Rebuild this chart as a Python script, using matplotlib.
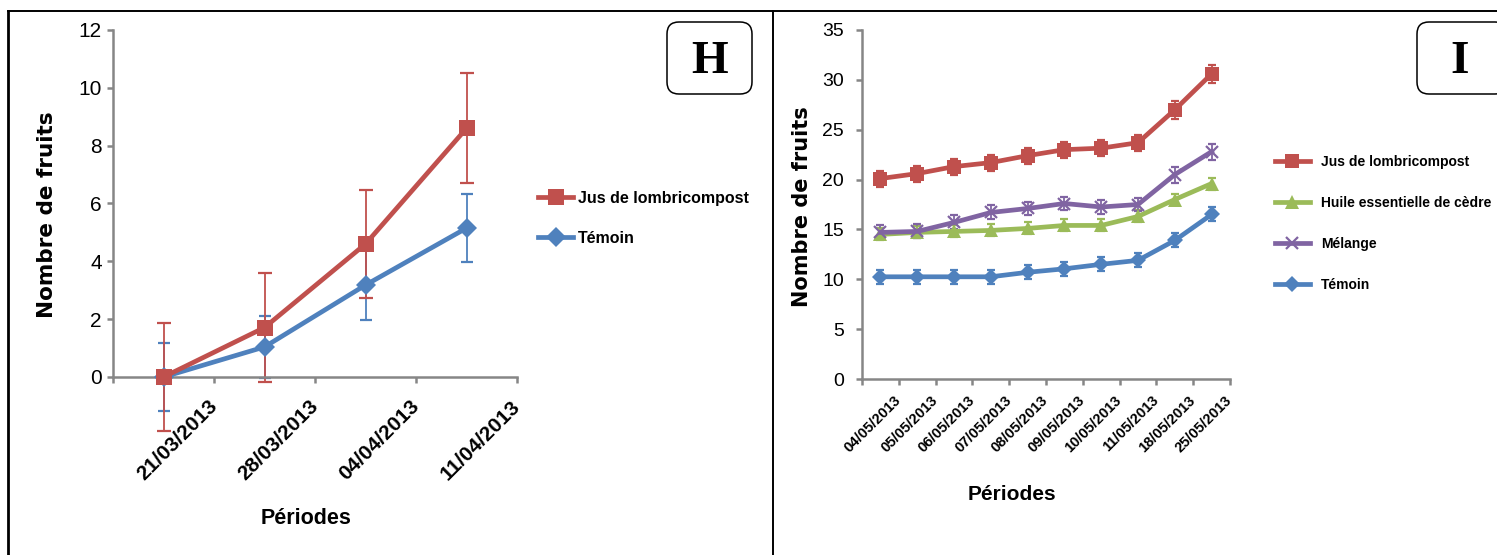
import matplotlib
matplotlib.use('Agg')
import matplotlib.pyplot as plt
from matplotlib import font_manager
from matplotlib.lines import Line2D
from matplotlib.patches import FancyBboxPatch

# panel H
dates_h = ['21/03/2013', '28/03/2013', '04/04/2013', '11/04/2013']
jus_h = [0.0, 1.71, 4.6, 8.6]
jus_h_err = [1.88, 1.88, 1.88, 1.9]
temoin_h = [0.0, 1.04, 3.18, 5.15]
temoin_h_err = [1.19, 1.08, 1.2, 1.17]

# panel I
dates_i = ['04/05/2013', '05/05/2013', '06/05/2013', '07/05/2013', '08/05/2013',
           '09/05/2013', '10/05/2013', '11/05/2013', '18/05/2013', '25/05/2013']
jus_i = [20.1, 20.6, 21.3, 21.7, 22.4, 23.0, 23.15, 23.7, 27.0, 30.6]
huile_i = [14.5, 14.7, 14.8, 14.9, 15.1, 15.4, 15.4, 16.3, 18.0, 19.6]
melange_i = [14.7, 14.8, 15.7, 16.7, 17.1, 17.6, 17.25, 17.5, 20.5, 22.8]
temoin_i = [10.25, 10.25, 10.25, 10.25, 10.7, 11.05, 11.5, 11.9, 13.9, 16.5]
jus_i_err = [0.8, 0.8, 0.8, 0.8, 0.8, 0.8, 0.8, 0.8, 0.9, 0.9]
huile_i_err = [0.6, 0.6, 0.6, 0.6, 0.6, 0.6, 0.6, 0.6, 0.6, 0.6]
melange_i_err = [0.7, 0.7, 0.7, 0.7, 0.7, 0.7, 0.7, 0.7, 0.8, 0.8]
temoin_i_err = [0.7, 0.7, 0.7, 0.7, 0.7, 0.7, 0.7, 0.7, 0.7, 0.7]

RED = '#C0504D'
BLUE = '#4F81BD'
GREEN = '#9BBB59'
PURPLE = '#8064A2'
GREY = '#868686'

installed = {f.name for f in font_manager.fontManager.ttflist}
NARROW = 'Liberation Sans Narrow' if 'Liberation Sans Narrow' in installed else 'Liberation Sans'
WIDE = 'DejaVu Sans'

fig = plt.figure(figsize=(14.97, 5.55), dpi=100)
W, H = 1497, 555


def px_axes(x0, x1, ytop, ybot):
    return fig.add_axes([x0 / W, (H - ybot) / H, (x1 - x0) / W, (ybot - ytop) / H])


def style_axes(ax, ymax, step, labels, ytick_size, xtick_size, xpad, ypad):
    for s in ['top', 'right']:
        ax.spines[s].set_visible(False)
    for s in ['left', 'bottom']:
        ax.spines[s].set_color(GREY)
        ax.spines[s].set_linewidth(1.8)
    n = len(labels)
    ax.set_xlim(-0.5, n - 0.5)
    ax.set_ylim(0, ymax)
    ax.set_yticks(range(0, ymax + 1, step))
    ax.set_xticks([i - 0.5 for i in range(n + 1)])
    ax.set_xticklabels([''] + labels, rotation=45, ha='right', va='center',
                       rotation_mode='anchor', fontsize=xtick_size,
                       fontweight='bold', family='Liberation Sans')
    for lab in ax.get_yticklabels():
        lab.set_family(NARROW)
        lab.set_fontsize(ytick_size)
    ax.tick_params(axis='both', direction='out', length=4, width=1.8, color=GREY)
    ax.tick_params(axis='x', pad=xpad)
    ax.tick_params(axis='y', pad=ypad)


def series(ax, x, y, err, color, marker, ms, lw, label, cap, mew=0):
    ax.errorbar(x, y, yerr=err, fmt='none', ecolor=color, elinewidth=1.3,
                capsize=cap, capthick=1.6, clip_on=False, zorder=2)
    ax.plot(x, y, color=color, lw=lw, marker=marker, ms=ms, mew=mew,
            mec=color, mfc=color, label=label, clip_on=False, zorder=3)


# ---- panel H ----
axh = px_axes(113, 517, 30, 377)
xh = list(range(len(dates_h)))
series(axh, xh, temoin_h, temoin_h_err, BLUE, 'D', 10, 3.4, 'Témoin', 4)
series(axh, xh, jus_h, jus_h_err, RED, 's', 12, 3.4, 'Jus de lombricompost', 5)
style_axes(axh, 12, 2, dates_h, 15, 15, 15, 4)
handles, labels_ = axh.get_legend_handles_labels()
axh.legend(handles[::-1], labels_[::-1], loc='upper left',
           bbox_to_anchor=(538 / W, 1 - 191 / H), bbox_transform=fig.transFigure,
           frameon=False, borderpad=0, borderaxespad=0,
           handlelength=2.2, handletextpad=0.3, labelspacing=1.55,
           prop={'family': NARROW, 'weight': 'bold', 'size': 11.5})
fig.text(47 / W, 1 - 215 / H, 'Nombre de fruits', rotation=90, ha='center',
         va='center', family=WIDE, fontweight='bold', fontsize=15.5)
fig.text(306 / W, 1 - 519 / H, 'Périodes', ha='center', va='center',
         family=NARROW, fontweight='bold', fontsize=15.5)

# ---- panel I ----
axi = px_axes(862, 1230, 30, 379)
xi = list(range(len(dates_i)))
series(axi, xi, jus_i, jus_i_err, RED, 's', 10, 3.4, 'Jus de lombricompost', 3)
series(axi, xi, huile_i, huile_i_err, GREEN, '^', 10, 3.4, 'Huile essentielle de cèdre', 3)
series(axi, xi, melange_i, melange_i_err, PURPLE, 'x', 9, 3.4, 'Mélange', 3, mew=1.6)
series(axi, xi, temoin_i, temoin_i_err, BLUE, 'D', 8, 3.4, 'Témoin', 3)
style_axes(axi, 35, 5, dates_i, 14, 10.5, 10, 9)
axi.legend(loc='upper left', bbox_to_anchor=(1275 / W, 1 - 155 / H),
           bbox_transform=fig.transFigure, frameon=False, borderpad=0,
           borderaxespad=0, handlelength=2.5, handletextpad=0.8,
           labelspacing=1.95,
           prop={'family': NARROW, 'weight': 'bold', 'size': 10})
fig.text(802 / W, 1 - 207 / H, 'Nombre de fruits', rotation=90, ha='center',
         va='center', family=WIDE, fontweight='bold', fontsize=15)
fig.text(1012 / W, 1 - 494 / H, 'Périodes', ha='center', va='center',
         family=NARROW, fontweight='bold', fontsize=15)

# ---- frame and panel letters ----
fig.add_artist(Line2D([8 / W, 1], [1 - 11 / H] * 2, transform=fig.transFigure,
                      color='black', lw=1.4))
fig.add_artist(Line2D([8 / W] * 2, [0, 1 - 11 / H], transform=fig.transFigure,
                      color='black', lw=2))
fig.add_artist(Line2D([773 / W] * 2, [0, 1 - 11 / H], transform=fig.transFigure,
                      color='black', lw=1.4))
for letter, x0, w in [('H', 667, 85), ('I', 1417, 90)]:
    box = FancyBboxPatch((x0 / 100, (H - 94) / 100), w / 100, 0.72,
                         boxstyle='round,pad=0,rounding_size=0.12',
                         transform=fig.dpi_scale_trans, fc='white', ec='black', lw=1.1)
    fig.add_artist(box)
    fig.text((x0 + 43) / W, 1 - 62 / H, letter, ha='center', va='center',
             family='Liberation Serif', fontweight='bold', fontsize=34)

fig.savefig('out.png', dpi=100)
